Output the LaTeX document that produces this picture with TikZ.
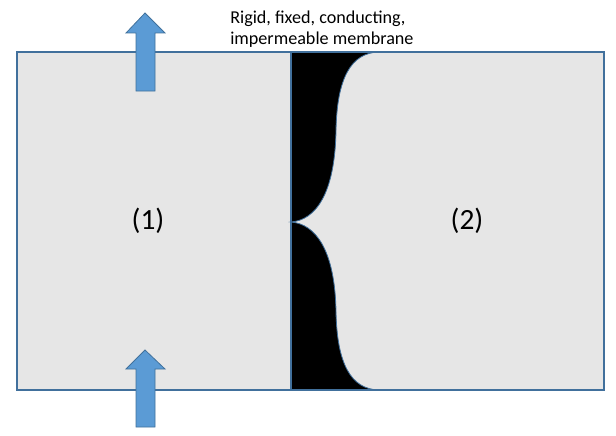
\documentclass[tikz,border=0pt]{standalone}
\usepackage{fontspec}
\setmainfont{Carlito}
\begin{document}
\begin{tikzpicture}[x=0.75pt,y=-0.75pt,
  edge/.style={draw=boxline,line width=1.1pt},
  heatarrow/.style={fill=arrowfill,draw=arrowline,line width=0.6pt},
  label/.style={font=\fontsize{22}{26}\selectfont,inner sep=0pt}]
\definecolor{boxfill}{HTML}{E6E6E6}
\definecolor{boxline}{HTML}{41709C}
\definecolor{arrowfill}{HTML}{5B9BD5}
\definecolor{arrowline}{HTML}{41719C}
\useasboundingbox (0,0) rectangle (616,435);
% container
\fill[boxfill] (17,52) rectangle (604,390);
% membrane
\path[fill=black,draw=boxline,line width=0.6pt]
  (291,52) -- (380,52)
  .. controls (350,52) and (337,80) .. (336,130)
  .. controls (335,195) and (315,220) .. (291,222)
  .. controls (315,224) and (335,249) .. (336,312)
  .. controls (337,362) and (350,390) .. (380,390)
  -- (291,390) -- cycle;
\draw[edge] (17,52) rectangle (604,390);
\draw[boxline,line width=1pt] (291,52) -- (291,390);
% arrows
\path[heatarrow] (136,91) -- (136,33) -- (126,33) -- (145,13) -- (165,33) -- (155,33) -- (155,91) -- cycle;
\path[heatarrow] (136,427) -- (136,369) -- (126,369) -- (145,350) -- (165,369) -- (155,369) -- (155,427) -- cycle;
% texts
\node[anchor=north west,align=left,inner sep=0pt,font=\fontsize{13.6}{15.5}\selectfont] (note) at (230,11)
  {Rigid, fixed, conducting,\\impermeable membrane};
\node[label] (one) at (148,221) {(1)};
\node[label] (two) at (467,221) {(2)};
\end{tikzpicture}
\end{document}
